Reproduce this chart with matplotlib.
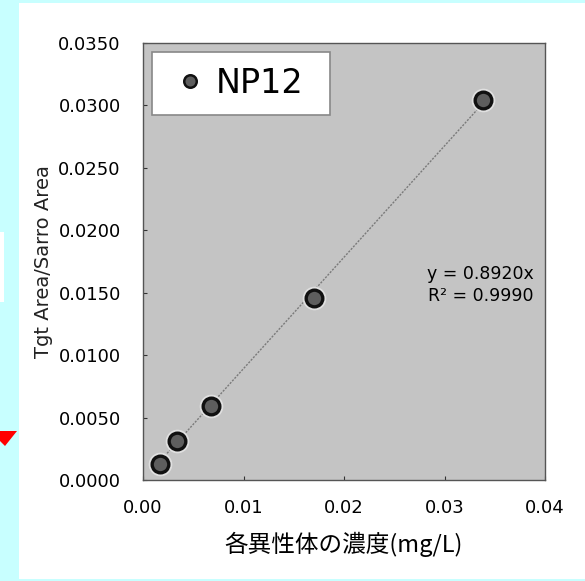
import matplotlib
matplotlib.use("Agg")
import matplotlib.pyplot as plt
from matplotlib.patches import Rectangle, Polygon
from matplotlib.lines import Line2D

# NP12 calibration points
conc = [0.0017, 0.0034, 0.0068, 0.0170, 0.0338]
ratio = [0.0013, 0.0031, 0.0059, 0.0146, 0.0304]
slope = 0.8920
r2 = 0.9990
xticks = [0.00, 0.01, 0.02, 0.03, 0.04]
yticks = [0.0000, 0.0050, 0.0100, 0.0150, 0.0200, 0.0250, 0.0300, 0.0350]

W, H = 585, 581
fig = plt.figure(figsize=(W / 100, H / 100), dpi=100)
fig.patch.set_facecolor("#c8ffff")

def px(x, y):
    # pixel coordinates from the top-left corner -> figure fraction
    return x / W, 1 - y / H

# white sheet and bits of the slide around it
fig.patches.append(Rectangle(px(19, 579), (W - 19) / W, 576 / H, transform=fig.transFigure,
                             facecolor="white", edgecolor="none", zorder=-10))
fig.patches.append(Rectangle(px(0, 302), 4 / W, 70 / H, transform=fig.transFigure,
                             facecolor="white", edgecolor="none", zorder=-10))
fig.patches.append(Polygon([px(-10, 431), px(17, 431), px(5, 446)], closed=True,
                           transform=fig.transFigure, facecolor="#ff0000", edgecolor="none",
                           zorder=-10))

ax = fig.add_axes([143 / W, 1 - 480 / H, 402 / W, 437 / H])
ax.set_facecolor("#c4c4c4")

# trendline through origin
ax.plot([conc[0], conc[-1]], [slope * conc[0], slope * conc[-1]], color="#7a7a7a",
        lw=1, ls=(0, (1.5, 1)), zorder=2)
ax.plot(conc, ratio, "o", ms=17, color="#e0e0e0", mew=0, zorder=3)
ax.plot(conc, ratio, "o", ms=12, markerfacecolor="#5e5e5e", markeredgecolor="#111111",
        mew=2.4, ls="none", zorder=4)

ax.set_xlim(0, 0.04)
ax.set_ylim(0, 0.035)
ax.set_xticks(xticks)
ax.set_xticklabels([f"{v:.2f}" for v in xticks])
ax.set_yticks(yticks)
ax.set_yticklabels([f"{v:.4f}" for v in yticks])
ax.tick_params(direction="in", length=3, width=0.8, labelsize=13, colors="#333333",
               labelcolor="black")
ax.tick_params(axis="y", pad=16)
ax.tick_params(axis="x", pad=14)
for s in ax.spines.values():
    s.set_color("#555555")
    s.set_linewidth(1)

ax.set_ylabel("Tgt Area/Sarro Area", fontsize=14, labelpad=4, color="#222222")
ax.set_xlabel("各異性体の濃度(mg/L)", fontsize=17, labelpad=10,
              family=["Noto Sans CJK JP", "DejaVu Sans"])

ax.text(0.0389, 0.0156, f"y = {slope:.4f}x\nR² = {r2:.4f}", fontsize=12.5,
        ha="right", va="center", linespacing=1.25)

h = Line2D([], [], marker="o", ls="none", ms=9, markerfacecolor="#5e5e5e",
           markeredgecolor="#111111", mew=1.8)
leg = ax.legend([h], ["NP12"], loc="upper left", fontsize=24,
                bbox_to_anchor=(9 / 402, 1 - 9 / 437 - 0.01, 178 / 402, 0.01), mode="expand",
                borderaxespad=0, borderpad=0.45, handlelength=1.4, handletextpad=0.05,
                fancybox=False, framealpha=1, edgecolor="#888888")
leg.get_frame().set_linewidth(1.2)

fig.savefig("out.png", dpi=100, facecolor=fig.get_facecolor())
